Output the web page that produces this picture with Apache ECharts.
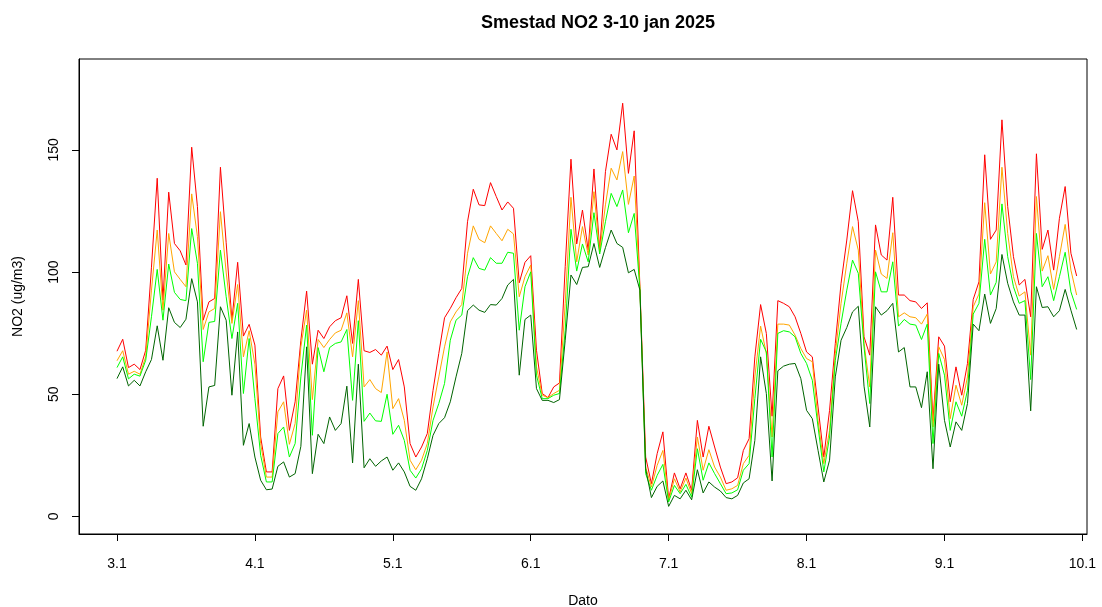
<!DOCTYPE html>
<html>
<head>
<meta charset="utf-8">
<script src="https://cdn.jsdelivr.net/npm/echarts@6/dist/echarts.min.js"></script>
<style>
html, body { margin: 0; padding: 0; background: #ffffff; }
#chart { width: 1102px; height: 607px; }
</style>
</head>
<body>
<div id="chart"></div>
<script>
// Hourly NO2 at Smestad, 3 Jan 00:00 to 9 Jan 23:00 (index = hours since 3 Jan 00:00)
const dayLabels = ['3.1', '4.1', '5.1', '6.1', '7.1', '8.1', '9.1', '10.1'];
const dayTicks = [0, 24, 48, 72, 96, 120, 144, 168];
const yTicks = [0, 50, 100, 150];

const redSeries = [
  67.6, 72.5, 60.9, 62.3, 60.1, 68.0, 102, 138.4, 88.5, 132.7, 111.7, 108.7, 102.9, 151.1, 126.8, 80.3, 87.8, 89.2, 142.9, 112, 80.3, 104, 73.8, 78.6,
  70.1, 32.5, 18.2, 18.2, 52.3, 57.5, 35.2, 46.9, 72.1, 92.2, 62.3, 76.2, 72.8, 77.6, 80.1, 81.3, 90.3, 70.8, 97, 67.8, 67.1, 68.3, 66, 69.7,
  60.1, 64.2, 53, 29.8, 24.3, 28.4, 33.9, 51.6, 66.7, 81.3, 85.1, 89.5, 93.3, 120.6, 133.9, 127.5, 127.2, 136.6, 130.9, 125.4, 128.7, 126.1, 95.6, 104,
  106.7, 68, 50.3, 48.6, 53, 54.6, 102.2, 146.2, 111.5, 125.4, 109, 142.2, 109, 141.1, 156.4, 150, 169.1, 140.4, 157.8, 94, 24.3, 13.4,
  25.7, 34.6, 7.2, 17.8, 11.3, 17.8, 10.7, 39.3, 24.3, 36.9, 28.4, 20.2, 13.4, 14.1, 15.8, 27, 31.8, 65.3, 86.7, 74.9, 41, 88.3, 87.2, 85.8,
  81.7, 74.9, 67.3, 65.3, 44.8, 24.3, 43.4, 70.8, 95.4, 113.1, 133.3, 120.6, 73.5, 66, 119.3, 107, 104.9, 130.6, 90.6, 90.6, 88.3, 87.8, 85.1, 87.4,
  39.3, 73.5, 69.7, 46.9, 61.2, 49.6, 62.6, 88.8, 96, 148, 113.4, 117.2, 162.3, 126.8, 106.3, 94.7, 97, 81.7, 148.4, 109.3, 117.2, 100.8, 122, 135,
  107.7, 98.4
];

const orangeSeries = [
  63.7, 67.8, 58.2, 59.4, 58.2, 65.3, 92.6, 117.2, 84.4, 115.8, 100.1, 97, 94, 132, 114.5, 76.5, 83.7, 85.1, 124.7, 100, 79, 94.9, 65.3, 76,
  62.3, 29.8, 16.1, 16.1, 42.8, 46.9, 29.5, 38, 69.4, 84.4, 47.8, 72.4, 69.1, 72.4, 75.1, 76.2, 83.3, 65.3, 88.3, 53, 56, 52.3, 50.7, 67.3,
  44.1, 48.2, 39.3, 23, 19.1, 23, 29.8, 44.8, 57.1, 69.4, 79.6, 83.7, 86.7, 107.7, 118.9, 113.4, 112, 118.9, 115.8, 112.8, 117.5, 115.6, 89.9, 98.1,
  102.9, 61.2, 49.6, 48.6, 50.3, 51.6, 87.2, 130.6, 104.2, 118.6, 107, 132.9, 108.3, 127.5, 142.5, 137.7, 149.3, 127.7, 139.3, 93.3, 20.2, 12,
  20.9, 27, 6.6, 15.4, 10, 15.7, 9.3, 32.5, 18.9, 27.3, 20.2, 16.1, 10.7, 11.3, 12.7, 21.6, 25, 57.1, 77.9, 66.7, 32.5, 78.7, 78.7, 78.3,
  74.2, 68.7, 64.6, 63.3, 39.3, 21.6, 35.2, 66.7, 87.2, 103.6, 118.6, 109, 70.8, 53, 109, 99.2, 97.4, 116.1, 81.7, 83.3, 81.7, 81.3, 78.7, 82.8,
  36.6, 69.4, 64.2, 40, 53.7, 45.5, 57.1, 85.8, 91, 128.4, 99.2, 104.2, 142.9, 115.8, 98.1, 90.2, 91.9, 66, 130.9, 100.4, 106.7, 92.9, 106.3, 119.5,
  100.8, 90.6
];

const greenSeries = [
  60.9, 65.3, 56.3, 58.2, 57.4, 63.9, 81.7, 101.1, 80.3, 103.3, 91.7, 88.8, 88.3, 117.8, 103.6, 63.3, 79.4, 79.8, 109, 89.9, 72.8, 87.2, 50.3, 72.8,
  48.2, 25, 14.1, 14.1, 33.9, 36.6, 24.3, 29.8, 57.1, 78.3, 33.2, 69.1, 59.2, 69.1, 70.8, 71.4, 76.5, 47.5, 80.1, 38.9, 42.3, 39.1, 38.9, 50,
  33.6, 37.3, 31.1, 18.9, 15.7, 19.5, 27, 39.3, 46.2, 54.4, 72.1, 80.3, 82.4, 98.1, 105.9, 101.5, 100.8, 105.9, 103.6, 103.6, 108.1, 107.7, 76.2, 94,
  100.1, 57.8, 48.2, 48.2, 49.6, 50.3, 76.2, 117.5, 100.4, 111.5, 104.2, 124.3, 107.4, 120.6, 132.2, 126.8, 133.6, 116.1, 124, 92.9, 17.5, 10.7,
  16.8, 21.3, 5.9, 12.7, 9.3, 13.1, 7.9, 27.7, 14.8, 21.9, 17.5, 13.4, 9.3, 9.6, 10.9, 18.9, 21.6, 48.2, 72.5, 67.3, 24.3, 74.9, 76, 75.5,
  73.5, 66.7, 62.6, 55.7, 36.6, 18.2, 32.5, 63.9, 79, 92.6, 104.9, 99.5, 69.4, 46.2, 100.1, 91.9, 91.9, 104.2, 77.9, 80.6, 78.7, 78.3, 72.4, 78.7,
  29.8, 66.7, 57.8, 35.2, 46.9, 41, 51.6, 82.8, 87.2, 113.4, 90.6, 95.8, 127.9, 106.3, 94, 87.2, 88.3, 56, 115.8, 94, 98.1, 88.3, 98.1, 108.1,
  91.9, 84.7
];

const darkGreenSeries = [
  56.4, 61.2, 53.4, 55.7, 53.4, 59.2, 64.2, 78, 63.9, 85.4, 79.4, 77.3, 80.7, 97.3, 87.8, 36.9, 53, 53.6, 85.8, 80.3, 49.6, 75.5, 29.1, 38,
  24.3, 14.8, 10.9, 11.2, 20.5, 22.3, 16.1, 17.5, 28.7, 69.4, 17.5, 33.6, 29.8, 40.7, 35.2, 38, 53.3, 21.9, 62.3, 19.9, 23.6, 20.5, 22.7, 24.3,
  18.9, 21.9, 18.2, 12.3, 10.7, 15.4, 23.6, 33.2, 38, 40.4, 46.9, 57.1, 66.7, 84.2, 86.5, 84.4, 83.5, 86.7, 86.5, 89.2, 94.7, 97, 57.8, 80.6,
  82.4, 52.3, 47.5, 47.5, 46.6, 47.8, 72.1, 98.8, 94.9, 101.9, 102.2, 111.7, 101.9, 110, 117.2, 111.7, 110.1, 99.7, 101.1, 92.6, 19.5, 7.7,
  12.3, 14.5, 4.1, 8.6, 7.2, 10.7, 6.8, 19.1, 9.6, 14.1, 12, 10.4, 7.7, 7.2, 8.6, 13.7, 15.4, 31.1, 65.3, 50.3, 14.5, 59.6, 61.5, 62.3,
  62.6, 56.4, 43.4, 40, 27, 14.1, 23, 57.1, 72.1, 77.3, 83.7, 86, 53.3, 36.6, 85.8, 82.4, 84.2, 87.2, 67.3, 69.1, 53, 53, 44.5, 59.2,
  19.5, 62.3, 39.3, 28.4, 38.7, 35.2, 46.2, 78.7, 76, 91, 79, 85.1, 107.2, 95.4, 87.8, 82.4, 82.4, 43.2, 94, 85.5, 85.8, 81.7, 84.2, 92.9,
  84.4, 76.5
];

const seriesDefs = [
  { name: 'red', color: '#ff0000', values: redSeries },
  { name: 'orange', color: '#ffa500', values: orangeSeries },
  { name: 'green', color: '#00ff00', values: greenSeries },
  { name: 'darkgreen', color: '#006400', values: darkGreenSeries }
];

const FONT = '"Liberation Sans", Arial, sans-serif';

const chart = echarts.init(document.getElementById('chart'), null, { renderer: 'canvas' });

chart.setOption({
  animation: false,
  backgroundColor: '#ffffff',
  graphic: [{
    type: 'text',
    x: 598,
    y: 23,
    style: {
      text: 'Smestad NO2 3-10 jan 2025',
      font: 'bold 18px ' + FONT,
      fill: '#000000',
      textAlign: 'center',
      textVerticalAlign: 'middle'
    }
  }],
  grid: {
    left: 79,
    right: 15,
    top: 59,
    bottom: 73,
    show: true,
    borderColor: '#000000',
    borderWidth: 1,
    containLabel: false,
    outerBoundsMode: 'none'
  },
  xAxis: {
    type: 'value',
    min: -6.61,
    max: 168.8,
    name: 'Dato',
    nameLocation: 'middle',
    nameGap: 60,
    nameTextStyle: { fontFamily: FONT, fontSize: 14, color: '#000000' },
    axisLine: { show: true, onZero: false, lineStyle: { color: '#000000', width: 1 } },
    axisTick: { show: true, length: 7, customValues: dayTicks, lineStyle: { color: '#000000', width: 1 } },
    axisLabel: {
      customValues: dayTicks,
      formatter: v => dayLabels[Math.round(v / 24)],
      fontFamily: FONT,
      fontSize: 14,
      color: '#000000',
      margin: 23
    },
    splitLine: { show: false }
  },
  yAxis: {
    type: 'value',
    min: -7.2,
    max: 187.2,
    name: 'NO2 (ug/m3)',
    nameLocation: 'middle',
    nameGap: 54,
    nameRotate: 90,
    nameTextStyle: { fontFamily: FONT, fontSize: 14, color: '#000000' },
    axisLine: { show: true, onZero: false, lineStyle: { color: '#000000', width: 1 } },
    axisTick: { show: true, length: 7, customValues: yTicks, lineStyle: { color: '#000000', width: 1 } },
    axisLabel: {
      customValues: yTicks,
      rotate: 90,
      fontFamily: FONT,
      fontSize: 14,
      color: '#000000',
      margin: 18
    },
    splitLine: { show: false }
  },
  series: seriesDefs.map(s => ({
    name: s.name,
    type: 'line',
    data: s.values.map((v, i) => [i, v]),
    showSymbol: false,
    symbol: 'none',
    lineStyle: { color: s.color, width: 1 },
    itemStyle: { color: s.color },
    emphasis: { disabled: true },
    silent: true
  }))
});
</script>
</body>
</html>
